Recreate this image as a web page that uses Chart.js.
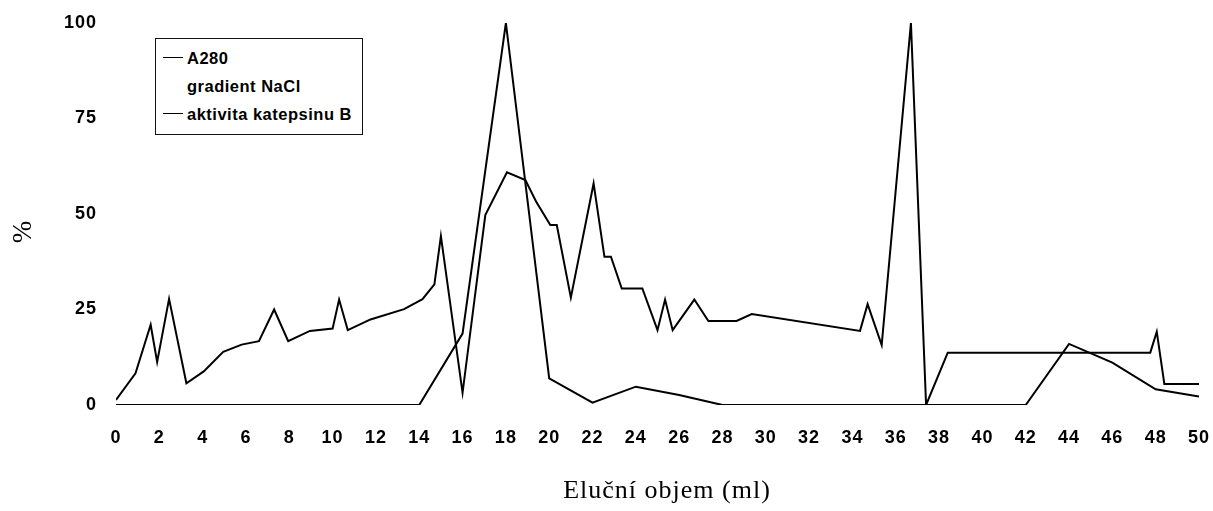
<!DOCTYPE html>
<html>
<head>
<meta charset="utf-8">
<script src="https://cdn.jsdelivr.net/npm/chart.js@4.4.1/dist/chart.umd.min.js"></script>
<style>
  html, body { margin: 0; padding: 0; background: #fff; }
  #wrap { position: relative; width: 1213px; height: 511px; }
  #legend {
    position: absolute; left: 155px; top: 38px; width: 206px; height: 95px;
    border: 1.5px solid #111; background: #fff;
    font: bold 16.5px "Liberation Sans", Arial, sans-serif; letter-spacing: 0.5px; color: #000;
  }
  #legend .row { position: absolute; left: 0; height: 20px; line-height: 20px; white-space: nowrap; }
  #legend .swatch { position: absolute; left: 7px; top: 9px; width: 20px; height: 0; border-top: 1.5px solid #000; }
  #legend .txt { position: absolute; left: 31px; top: 0; }
</style>
</head>
<body>
<div id="wrap">
  <canvas id="c" width="1213" height="511"></canvas>
  <div id="legend"></div>
</div>
<script>
// Elution volume (ml) and A280 (%) of the measured fractions
const a280Volume = [0, 0.9, 1.6, 1.9, 2.45, 3.25, 4.05, 4.95, 5.8, 6.6, 7.3, 7.95, 8.95, 10, 10.3, 10.7, 11.75, 13.3, 14.15, 14.7, 15.0, 16.0, 17.05, 18.05, 18.9, 19.4, 20.05, 20.35, 21.0, 22.05, 22.55, 22.85, 23.35, 24.3, 25.0, 25.35, 25.7, 26.7, 27.35, 28.65, 29.35, 34.35, 34.7, 35.35, 36.7, 37.4, 38.4, 47.75, 48.05, 48.4, 50];
const a280Values = [1.3, 8.3, 21, 11.3, 27.8, 5.7, 8.8, 13.9, 15.8, 16.7, 25, 16.7, 19.4, 20, 27.6, 19.6, 22.4, 25.1, 27.7, 31.6, 44.2, 3.2, 49.7, 60.9, 58.9, 53.2, 47.1, 47.1, 28.1, 58, 38.8, 38.8, 30.5, 30.5, 19.6, 27.6, 19.6, 27.6, 22, 22, 23.8, 19.4, 26.4, 15.7, 100, 0, 13.7, 13.7, 19.2, 5.5, 5.5];

// Cathepsin B activity (%) measured every 2 ml
const activityVolume = [0, 2, 4, 6, 8, 10, 12, 14, 16, 18, 20, 22, 24, 26, 28, 30, 32, 34, 36, 38, 40, 42, 44, 46, 48, 50];
const activityValues = [0, 0, 0, 0, 0, 0, 0, 0, 18.7, 100, 7, 0.6, 4.8, 2.6, 0, 0, 0, 0, 0, 0, 0, 0, 16, 11.1, 4.1, 2.2];

// Series names (the NaCl gradient is listed in the key without a trace)
const seriesLabels = ['A280', 'gradient NaCl', 'aktivita katepsinu B'];

// Axis ticks
const xTicks = [0, 2, 4, 6, 8, 10, 12, 14, 16, 18, 20, 22, 24, 26, 28, 30, 32, 34, 36, 38, 40, 42, 44, 46, 48, 50];
const yTicks = [0, 25, 50, 75, 100];

const xTitle = 'Eluční objem (ml)';
const yTitle = '%';

const toPoints = (xs, ys) => xs.map((x, i) => ({ x: x, y: ys[i] }));

// Slightly wider tracking for all canvas text
const tracking = {
  id: 'tracking',
  beforeDraw(chart) { chart.ctx.letterSpacing = '1px'; }
};

// Axis titles drawn onto the canvas
const axisTitles = {
  id: 'axisTitles',
  afterDraw(chart) {
    const ctx = chart.ctx;
    ctx.save();
    ctx.fillStyle = '#000';
    ctx.textAlign = 'center';
    ctx.textBaseline = 'middle';
    ctx.letterSpacing = '1px';
    ctx.font = '26px "Liberation Serif", "Times New Roman", serif';
    ctx.fillText(xTitle, 667, 491);
    ctx.letterSpacing = '0px';
    ctx.translate(24, 232);
    ctx.rotate(-Math.PI / 2);
    ctx.font = '27px "Liberation Serif", "Times New Roman", serif';
    ctx.fillText(yTitle, 0, 0);
    ctx.restore();
  }
};

// Keep the plot area fixed: no extra room reserved for edge labels
function noEdgePadding(scale) {
  scale.paddingTop = 0;
  scale.paddingBottom = 0;
  scale.paddingLeft = 0;
  scale.paddingRight = 0;
}

const tickFont = { family: '"Liberation Sans", Arial, sans-serif', size: 18, weight: 'bold' };

const chart = new Chart(document.getElementById('c'), {
  type: 'line',
  data: {
    datasets: [
      { label: seriesLabels[0], data: toPoints(a280Volume, a280Values), borderColor: '#000', borderWidth: 2, pointRadius: 0, tension: 0, fill: false },
      { label: seriesLabels[1], data: [], borderColor: 'rgba(0,0,0,0)', borderWidth: 2, pointRadius: 0 },
      { label: seriesLabels[2], data: toPoints(activityVolume, activityValues), borderColor: '#000', borderWidth: 2, pointRadius: 0, tension: 0, fill: false }
    ]
  },
  options: {
    responsive: false,
    animation: false,
    devicePixelRatio: 1,
    layout: { padding: { left: 0, right: 14, top: 23, bottom: 0 } },
    plugins: { legend: { display: false }, tooltip: { enabled: false } },
    scales: {
      x: {
        type: 'linear', min: 0, max: 50,
        afterFit(scale) { scale.height = 106; noEdgePadding(scale); },
        afterBuildTicks(scale) { scale.ticks = xTicks.map(v => ({ value: v })); },
        grid: { display: false, drawTicks: false },
        border: { display: false },
        ticks: { font: tickFont, color: '#000', padding: 22, maxRotation: 0, autoSkip: false }
      },
      y: {
        type: 'linear', min: 0, max: 100,
        afterFit(scale) { scale.width = 116; noEdgePadding(scale); },
        afterBuildTicks(scale) { scale.ticks = yTicks.map(v => ({ value: v })); },
        grid: { display: false, drawTicks: false },
        border: { display: false },
        ticks: { font: tickFont, color: '#000', padding: 19 }
      }
    }
  },
  plugins: [tracking, axisTitles]
});

// Key box built from the chart's datasets
const legendEl = document.getElementById('legend');
chart.data.datasets.forEach((ds, i) => {
  const row = document.createElement('div');
  row.className = 'row';
  row.style.top = (9 + i * 28) + 'px';
  if (ds.data.length) {
    const sw = document.createElement('div');
    sw.className = 'swatch';
    row.appendChild(sw);
  }
  const t = document.createElement('span');
  t.className = 'txt';
  t.textContent = ds.label;
  row.appendChild(t);
  legendEl.appendChild(row);
});
</script>
</body>
</html>
